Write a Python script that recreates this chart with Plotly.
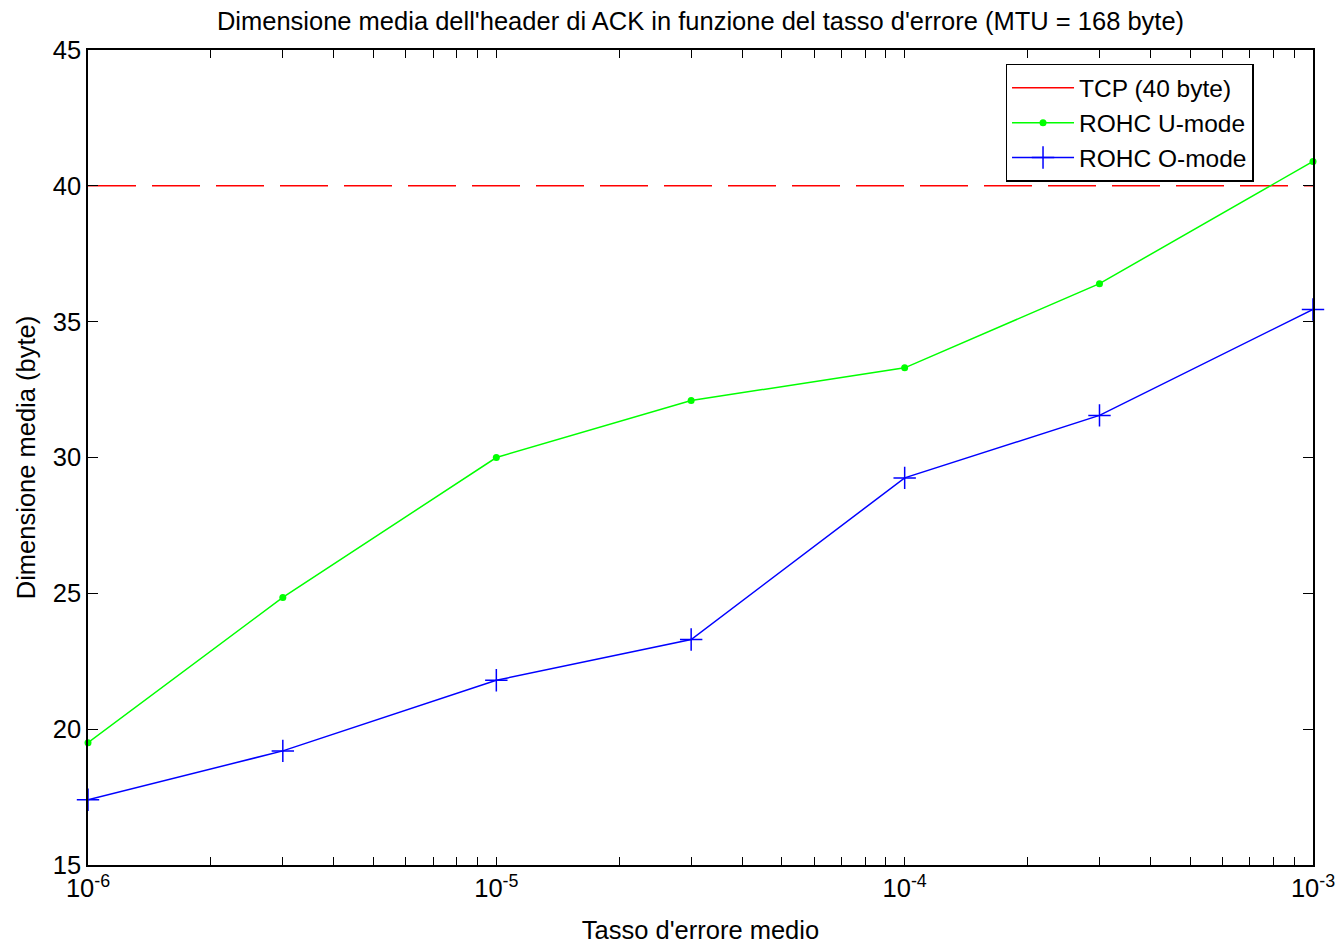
import plotly.graph_objects as go

# Data
error_rates = [1e-6, 3e-6, 1e-5, 3e-5, 1e-4, 3e-4, 1e-3]
rohc_u = [19.5, 24.85, 30.0, 32.1, 33.3, 36.4, 40.9]
rohc_o = [17.4, 19.2, 21.8, 23.3, 29.25, 31.55, 35.45]
tcp_x = [1e-6, 1e-3]
tcp_y = [40, 40]

x_major = [1e-6, 1e-5, 1e-4, 1e-3]
x_major_text = ["10<sup>-6</sup>", "10<sup>-5</sup>", "10<sup>-4</sup>", "10<sup>-3</sup>"]
x_minor = [m * 10.0 ** e for e in (-6, -5, -4) for m in range(2, 10)]
y_ticks = [15, 20, 25, 30, 35, 40, 45]

FONT = "Liberation Sans, Arial, sans-serif"
FS = 25.5

fig = go.Figure()
# dashed reference line (legend entry drawn separately as a solid sample)
fig.add_trace(go.Scatter(x=tcp_x, y=tcp_y, mode="lines", name="TCP (40 byte)",
                         showlegend=False, legendgroup="tcp",
                         line=dict(color="#ff0000", width=1.5, dash="48px,16px")))
fig.add_trace(go.Scatter(x=[None], y=[None], mode="lines", name="TCP (40 byte)",
                         legendgroup="tcp",
                         line=dict(color="#ff0000", width=1.5)))
fig.add_trace(go.Scatter(x=error_rates, y=rohc_u, mode="lines+markers", name="ROHC U-mode",
                         cliponaxis=False,
                         line=dict(color="#00ff00", width=1.5),
                         marker=dict(symbol="circle", size=7, color="#00ff00")))
fig.add_trace(go.Scatter(x=error_rates, y=rohc_o, mode="lines+markers", name="ROHC O-mode",
                         cliponaxis=False,
                         line=dict(color="#0000ff", width=1.5),
                         marker=dict(symbol="cross-thin", size=16,
                                     line=dict(color="#0000ff", width=1.5))))

fig.update_layout(
    width=1338, height=944,
    margin=dict(l=88, r=25, t=50, b=79),
    paper_bgcolor="white", plot_bgcolor="white",
    font=dict(family=FONT, size=FS, color="black"),
    title=dict(text="Dimensione media dell'header di ACK in funzione del tasso d'errore (MTU = 168 byte)",
               x=0.5, xref="paper", xanchor="center", y=0.978, yanchor="middle",
               font=dict(family=FONT, size=FS, color="black")),
    showlegend=True,
    legend=dict(x=0.749, y=0.983, xanchor="left", yanchor="top",
                bgcolor="white", bordercolor="black", borderwidth=1.5,
                font=dict(family=FONT, size=24.5, color="black"),
                tracegroupgap=0, itemwidth=62),
)
fig.update_xaxes(type="log", range=[-6.000001, -2.999999], tickvals=x_major, ticktext=x_major_text,
                 ticks="inside", ticklen=8, tickwidth=1.2, tickcolor="black",
                 minor=dict(tickvals=x_minor, ticks="inside", ticklen=8, tickwidth=1.2,
                            tickcolor="black", showgrid=False),
                 showline=True, linecolor="black", linewidth=1.5, mirror="allticks",
                 showgrid=False, zeroline=False, automargin=False,
                 title=dict(text="Tasso d'errore medio", standoff=22,
                            font=dict(family=FONT, size=FS)),
                 tickfont=dict(family=FONT, size=FS))
fig.update_yaxes(range=[15, 45], tickvals=y_ticks,
                 ticks="inside", ticklen=10, tickwidth=1.2, tickcolor="black",
                 showline=True, linecolor="black", linewidth=1.5, mirror="allticks",
                 showgrid=False, zeroline=False, automargin=False,
                 title=dict(text="Dimensione media (byte)", standoff=10,
                            font=dict(family=FONT, size=FS)),
                 tickfont=dict(family=FONT, size=FS))

fig.write_html("out.html")
